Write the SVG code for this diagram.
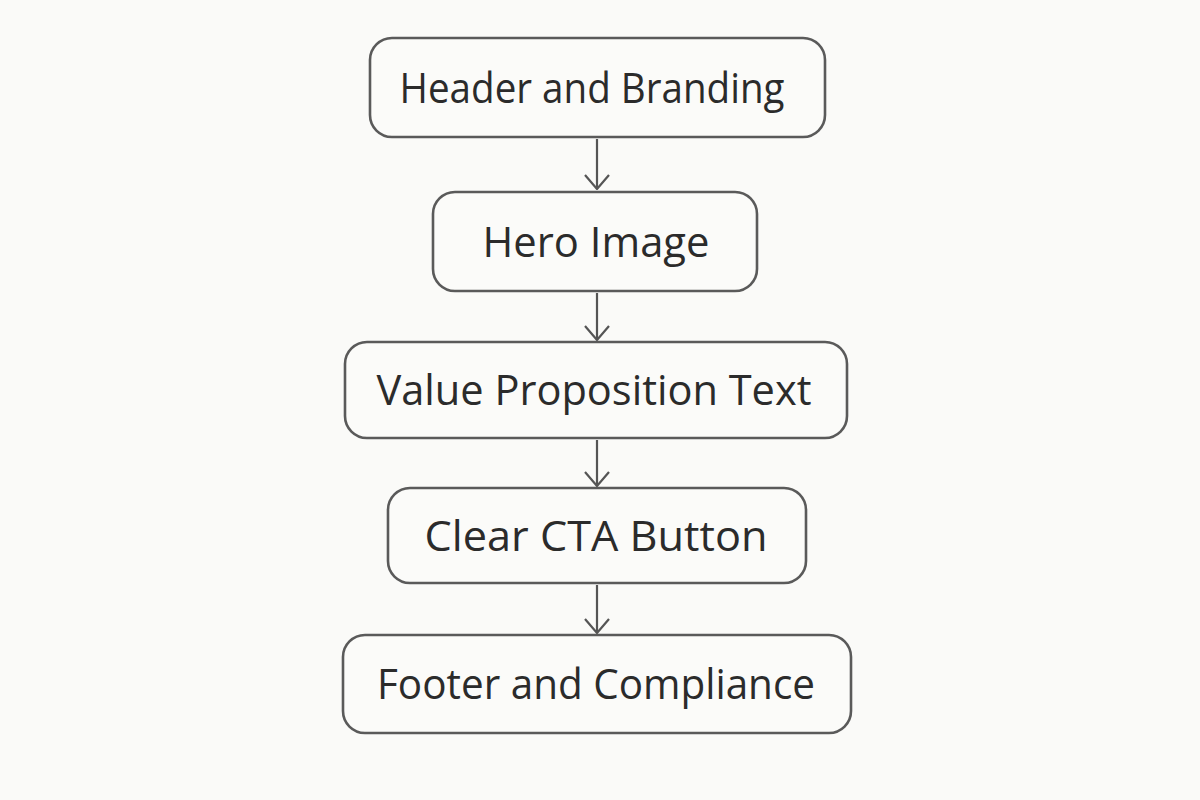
<svg xmlns="http://www.w3.org/2000/svg" width="1200" height="800" viewBox="0 0 1200 800">
<defs>
<style>
.box{fill:#fbfbf9;stroke:#5a5a5a;stroke-width:2.6}
.lbl{font-family:"Open Sans","Liberation Sans",sans-serif;font-size:42px;fill:#2b2b2b;text-anchor:middle}
.conn{stroke:#555;stroke-width:2.2;fill:none}
</style>
<marker id="arr" viewBox="0 0 16 26" refX="15" refY="13" markerWidth="16" markerHeight="26" markerUnits="userSpaceOnUse" orient="auto">
<path d="M1 1 L15 13 L1 25" fill="none" stroke="#555" stroke-width="2.2"/>
</marker>
</defs>
<rect width="1200" height="800" fill="#fafaf8"/>
<g id="connectors">
<path class="conn" d="M597 139 V189" marker-end="url(#arr)"/>
<path class="conn" d="M597 293 V340" marker-end="url(#arr)"/>
<path class="conn" d="M597 440 V486" marker-end="url(#arr)"/>
<path class="conn" d="M597 585 V633" marker-end="url(#arr)"/>
</g>
<g id="node-header">
<rect class="box" x="370" y="38" width="455" height="99" rx="22"/>
<text class="lbl" x="592" y="103" textLength="385" lengthAdjust="spacingAndGlyphs">Header and Branding</text>
</g>
<g id="node-hero">
<rect class="box" x="433" y="192" width="324" height="99" rx="22"/>
<text class="lbl" x="596" y="257" textLength="227" lengthAdjust="spacingAndGlyphs">Hero Image</text>
</g>
<g id="node-value">
<rect class="box" x="345" y="342" width="502" height="96" rx="22"/>
<text class="lbl" x="594" y="405" textLength="435" lengthAdjust="spacingAndGlyphs">Value Proposition Text</text>
</g>
<g id="node-cta">
<rect class="box" x="388" y="488" width="418" height="95" rx="22"/>
<text class="lbl" x="596" y="551" textLength="343" lengthAdjust="spacingAndGlyphs">Clear CTA Button</text>
</g>
<g id="node-footer">
<rect class="box" x="343" y="635" width="508" height="98" rx="22"/>
<text class="lbl" x="596" y="699" textLength="438" lengthAdjust="spacingAndGlyphs">Footer and Compliance</text>
</g>
</svg>
